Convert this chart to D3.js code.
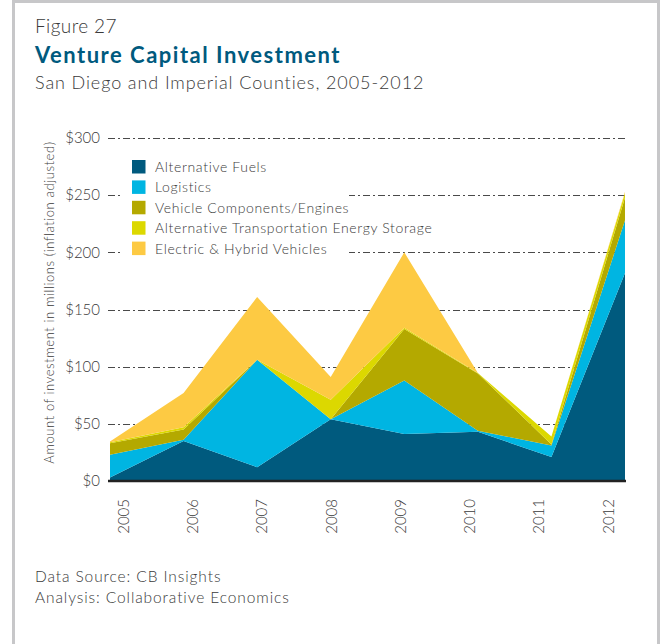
<!DOCTYPE html>
<html>
<head>
<meta charset="utf-8">
<script src="https://cdnjs.cloudflare.com/ajax/libs/d3/7.8.5/d3.min.js"></script>
<style>
  body { margin: 0; background: #fff; }
  svg text { font-family: Lato, "Open Sans", sans-serif; fill: #3a3a3a; }
</style>
</head>
<body>
<div id="viz"></div>
<script>
// values ($ millions, inflation adjusted)
let years = ['2005','2006','2007','2008','2009','2010','2011','2012']
let altFuels    = [3, 35, 12, 54, 41, 43, 21, 182]
let logistics   = [20, 1, 94, 0, 47, 1, 10, 46]
let vehComp     = [10, 9, 0, 0, 45, 50, 1, 20]
let altStorage  = [1, 2, 0, 17, 1, 0.5, 7, 4]
let electric    = [0.5, 30, 55, 20, 66, 0, 0, 1]
let seriesNames = ['Alternative Fuels', 'Logistics', 'Vehicle Components/Engines', 'Alternative Transportation Energy Storage', 'Electric & Hybrid Vehicles']
let colors = ['#005a7e', '#00b5e2', '#b4a900', '#dcd800', '#fdca43']
let yTicks = [0, 50, 100, 150, 200, 250, 300]

const W = 661, H = 644
const margin = {top:138, right:36, bottom:163, left:110},
    width = W - margin.left - margin.right,
    height = H - margin.top - margin.bottom

let rows = years.map(function(y, i) {
    return {year: y, s0: altFuels[i], s1: logistics[i], s2: vehComp[i], s3: altStorage[i], s4: electric[i]}
})

var svg = d3.select('#viz').append('svg')
    .attr('width', W)
    .attr('height', H)

// grey frame
svg.append('rect')
    .attr('x', 13.5).attr('y', 1.5)
    .attr('width', 645).attr('height', 700)
    .attr('fill', 'none')
    .attr('stroke', '#c7c7c9')
    .attr('stroke-width', 3)

svg.append('text').attr('x', 35).attr('y', 33)
    .style('font-size', '19px').style('font-weight', 300).style('letter-spacing', '0.4px')
    .text('Figure 27')
svg.append('text').attr('x', 35).attr('y', 63)
    .style('font-size', '22px').style('font-weight', 700).style('fill', '#005a7e')
    .style('letter-spacing', '1.5px')
    .text('Venture Capital Investment')
svg.append('text').attr('x', 35).attr('y', 89)
    .style('font-size', '18px').style('font-weight', 300).style('letter-spacing', '0.9px')
    .text('San Diego and Imperial Counties, 2005-2012')

svg.append('text').attr('x', 35).attr('y', 582)
    .style('font-size', '15.5px').style('font-weight', 300).style('letter-spacing', '0.9px')
    .text('Data Source: CB Insights')
svg.append('text').attr('x', 35).attr('y', 603)
    .style('font-size', '15.5px').style('font-weight', 300).style('letter-spacing', '0.9px')
    .text('Analysis: Collaborative Economics')

var g = svg.append('g')
    .attr('transform', 'translate(' + margin.left + ',' + margin.top + ')')

var x = d3.scalePoint()
    .domain(years)
    .range([0, width])

// the year labels sit on their own, slightly narrower spread
var xLab = d3.scalePoint()
    .domain(years)
    .range([13.5, width - 16.5])

var y = d3.scaleLinear()
    .domain([0, 300])
    .range([height, 0])

// dash-dot gridlines
g.append('g')
    .attr('class', 'grid')
    .selectAll('line')
    .data(yTicks.filter(d => d > 0))
    .enter().append('line')
    .attr('x1', -2).attr('x2', width)
    .attr('y1', d => Math.round(y(d)) + 0.5)
    .attr('y2', d => Math.round(y(d)) + 0.5)
    .attr('stroke', '#4a4a4a')
    .attr('stroke-width', 1)
    .attr('stroke-dasharray', '7,3,2,3')

var yAxis = d3.axisLeft(y)
    .tickValues(yTicks)
    .tickSize(0)
    .tickPadding(10)
    .tickFormat(d => '$' + d)

g.append('g')
    .attr('class', 'y-axis')
    .call(yAxis)
    .call(g => g.select('.domain').remove())
    .selectAll('text')
    .style('font-size', '15px')
    .style('font-weight', 300)
    .style('font-family', 'Lato, sans-serif')
    .style('fill', '#3a3a3a')

var stack = d3.stack().keys(['s0','s1','s2','s3','s4'])
var layers = stack(rows)

var area = d3.area()
    .x(d => x(d.data.year))
    .y0(d => y(d[0]))
    .y1(d => y(d[1]))

g.selectAll('.layer')
    .data(layers)
    .enter().append('path')
    .attr('class', 'layer')
    .attr('d', area)
    .attr('fill', (d, i) => colors[i])

// baseline
g.append('line')
    .attr('x1', -2).attr('x2', width + 1)
    .attr('y1', height).attr('y2', height)
    .attr('stroke', '#222')
    .attr('stroke-width', 2.5)

g.append('g')
    .selectAll('text')
    .data(years)
    .enter().append('text')
    .attr('transform', d => 'translate(' + xLab(d) + ',' + (height + 18) + ') rotate(-90)')
    .attr('text-anchor', 'end')
    .attr('dy', '0.35em')
    .style('font-size', '15px')
    .style('font-weight', 300)
    .text(d => d)

svg.append('text')
    .attr('transform', 'translate(54,' + (margin.top + height / 2 - 7) + ') rotate(-90)')
    .attr('text-anchor', 'middle')
    .style('font-size', '13px')
    .style('font-weight', 300)
    .style('letter-spacing', '0.6px')
    .text('Amount of investment in millions (inflation adjusted)')

// legend, with a white box that breaks the gridlines behind it
var legend = svg.append('g').attr('transform', 'translate(132,160)')
legend.append('rect')
    .attr('x', -9).attr('y', -8)
    .attr('width', 226).attr('height', 103)
    .attr('fill', '#fff')

seriesNames.forEach(function(name, i) {
    legend.append('rect')
        .attr('x', 0).attr('y', i * 20.4)
        .attr('width', 13.5).attr('height', 13.5)
        .attr('fill', colors[i])
    legend.append('text')
        .attr('x', 23).attr('y', i * 20.4 + 7)
        .attr('dy', '0.35em')
        .style('font-size', '14px')
        .style('font-weight', 300)
        .style('letter-spacing', '0.65px')
        .text(name)
})
</script>
</body>
</html>
